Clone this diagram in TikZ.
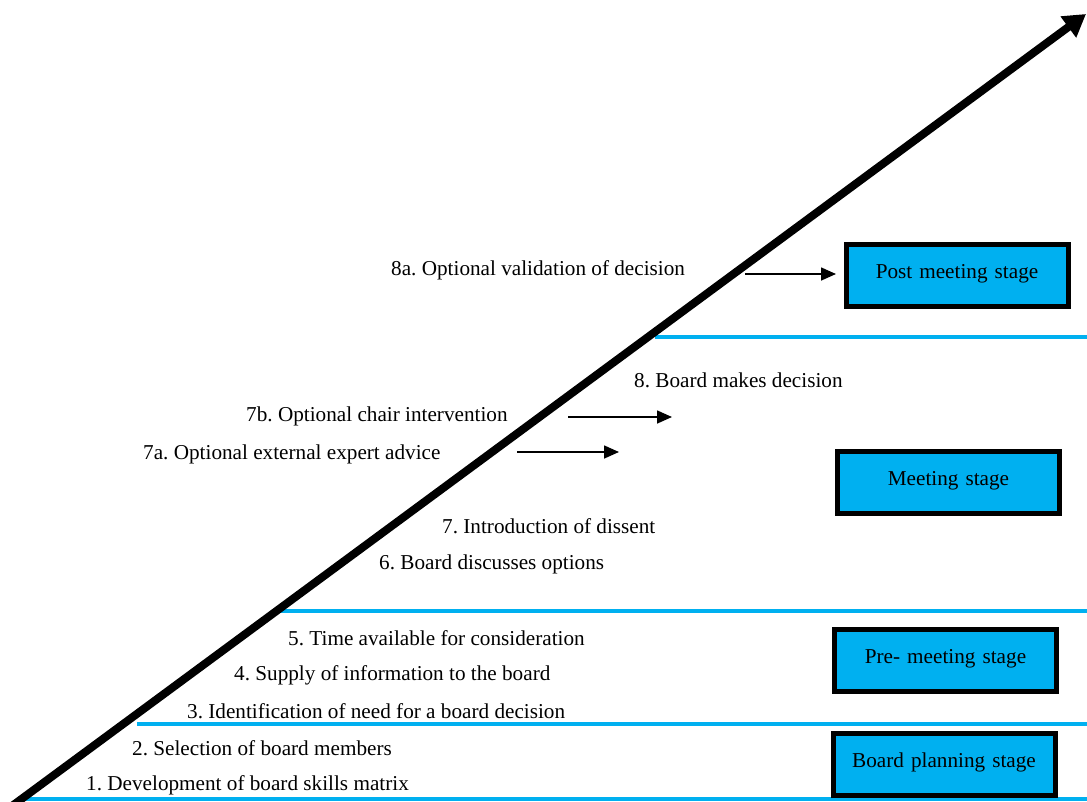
\documentclass[tikz,border=0pt]{standalone}
\usepackage{fontspec}
\setmainfont{Liberation Serif}
\usetikzlibrary{arrows.meta}
\definecolor{stageblue}{HTML}{00B0F0}
\begin{document}
\frenchspacing
\begin{tikzpicture}[x=1pt,y=-1pt,
  every node/.style={font=\fontsize{21.2}{25}\selectfont},
  steplabel/.style={anchor=west,inner sep=0pt},
  stagebox/.style={draw=black,line width=5pt,fill=stageblue,minimum height=62pt,text width=222pt,
    text height=15pt,text depth=10pt,align=center,inner sep=0pt},
  divider/.style={draw=stageblue,line width=3.5pt},
  sidearrow/.style={line width=1.6pt,-{Triangle[length=15pt,width=13pt]}},
  mainarrow/.style={line width=8pt,-{Triangle[length=22pt,width=25pt]}}]
\useasboundingbox (0,0) rectangle (1087,801);

% stage dividers
\draw[divider] (20,799) -- (1087,799);
\draw[divider] (137,724) -- (1087,724);
\draw[divider] (280,611) -- (1087,611);
\draw[divider] (655,337) -- (1087,337);

% stage boxes
\node[stagebox] (post) at (957,275.5) {Post meeting stage};
\node[stagebox] (meet) at (948.5,482.5) {Meeting stage};
\node[stagebox] (pre) at (945.5,660.5) {Pre- meeting stage};
\node[stagebox] (plan) at (944,764.5) {Board planning stage};

% the process timeline
\coordinate (tstart) at (12,806);
\coordinate (tend) at (1086,14);
\draw[mainarrow] (tstart) -- (tend);

% steps
\node[steplabel] (s8a) at (391,270) {8a. Optional validation of decision};
\node[steplabel] (s8) at (634,380) {8. Board makes decision};
\node[steplabel] (s7b) at (246,416) {7b. Optional chair intervention};
\node[steplabel] (s7a) at (143,454) {7a. Optional external expert advice};
\node[steplabel] (s7) at (442,526) {7. Introduction of dissent};
\node[steplabel] (s6) at (379,564) {6. Board discusses options};
\node[steplabel] (s5) at (288,638) {5. Time available for consideration};
\node[steplabel] (s4) at (234,675) {4. Supply of information to the board};
\node[steplabel] (s3) at (187,711) {3. Identification of need for a board decision};
\node[steplabel] (s2) at (132,748) {2. Selection of board members};
\node[steplabel] (s1) at (86,785) {1. Development of board skills matrix};

% optional-step arrows
\coordinate (a8s) at (745,274);
\coordinate (a8e) at (836,274);
\coordinate (a7bs) at (568,417);
\coordinate (a7be) at (672,417);
\coordinate (a7as) at (517,452);
\coordinate (a7ae) at (619,452);
\draw[sidearrow] (a8s) -- (a8e);
\draw[sidearrow] (a7bs) -- (a7be);
\draw[sidearrow] (a7as) -- (a7ae);
\end{tikzpicture}
\end{document}
